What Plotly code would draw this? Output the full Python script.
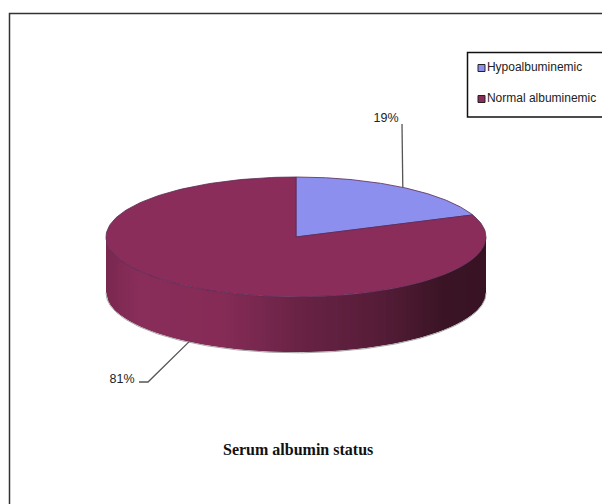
import numpy as np
import plotly.graph_objects as go

categories = ["Hypoalbuminemic", "Normal albuminemic"]
shares = [19, 81]
slice_colors = ["#8c8fee", "#8b2d5b"]
chart_title = "Serum albumin status"

# Pie geometry in page pixels: centre, radii and wall height of the disc
CX, CY, RX, RY, DEPTH = 296, 237, 190, 60, 55

# Shading of the front wall: (position from left end to right end, colour)
wall_stops = [(0.00, (122, 40, 80)), (0.08, (137, 45, 90)), (0.30, (133, 43, 86)),
              (0.50, (106, 35, 69)), (0.72, (85, 28, 55)), (0.88, (58, 20, 37)),
              (1.00, (56, 19, 36))]


def rim(theta):
    """Point on the top rim; theta runs clockwise from twelve o'clock."""
    return CX + RX * np.sin(theta), CY - RY * np.cos(theta)


def wall_colour(t):
    pos = [s[0] for s in wall_stops]
    rgb = [np.interp(t, pos, [s[1][i] for s in wall_stops]) for i in range(3)]
    return "rgb(%d,%d,%d)" % tuple(int(round(c)) for c in rgb)


fractions = np.cumsum([0] + shares) / sum(shares)
angles = 2 * np.pi * fractions

fig = go.Figure()

# Front wall: shaded strips painted left to right, each one running under the next
N_STRIPS = 95
edges = np.linspace(0, 1, N_STRIPS + 1)
for i in range(N_STRIPS):
    t0, t1 = edges[i], edges[min(i + 2, N_STRIPS)]
    s = np.linspace(2 * t0 - 1, 2 * t1 - 1, 8)
    x = CX + RX * s
    lower = CY + RY * np.sqrt(np.clip(1 - s ** 2, 0, 1))
    fig.add_trace(go.Scatter(
        x=np.r_[x, x[::-1]], y=np.r_[lower + DEPTH, lower[::-1]],
        mode="lines", fill="toself", fillcolor=wall_colour(edges[i]),
        line=dict(width=0), hoverinfo="skip", showlegend=False))

# Lower outline of the wall
th = np.linspace(np.pi / 2, 3 * np.pi / 2, 200)
x, y = rim(th)
fig.add_trace(go.Scatter(x=x, y=y + DEPTH + 0.8, mode="lines",
                         line=dict(color="#a5a5a5", width=1),
                         hoverinfo="skip", showlegend=False))

# Top face, one sector per category
for i, (name, colour) in enumerate(zip(categories, slice_colors)):
    th = np.linspace(angles[i], angles[i + 1], 200)
    x, y = rim(th)
    fig.add_trace(go.Scatter(
        x=np.r_[CX, x, CX], y=np.r_[CY, y, CY],
        mode="lines", fill="toself", fillcolor=colour,
        line=dict(color="#5a2a55", width=0.8),
        name=name, hoverinfo="name", showlegend=False))

# Value labels with leader lines from the middle of each slice's rim
mids = (angles[:-1] + angles[1:]) / 2
mx, my = rim(mids)
fig.add_trace(go.Scatter(x=[mx[0], 402], y=[my[0], 124], mode="lines",
                         line=dict(color="#555555", width=1.3),
                         hoverinfo="skip", showlegend=False))
fig.add_trace(go.Scatter(x=[mx[1], 148, 139], y=[my[1] + DEPTH, 382, 382], mode="lines",
                         line=dict(color="#555555", width=1.3),
                         hoverinfo="skip", showlegend=False))
fig.add_trace(go.Scatter(
    x=[386, 122], y=[119, 380], mode="text",
    text=[f"{v}%" for v in shares],
    textfont=dict(family="Liberation Sans", size=12.5, color="#222222"),
    hoverinfo="skip", showlegend=False))

# Key: square swatches with their labels to the right
fig.add_trace(go.Scatter(
    x=[481.5, 481.5], y=[68, 99], mode="markers+text",
    marker=dict(symbol="square", size=7, color=slice_colors,
                line=dict(color="#222222", width=1)),
    text=categories, textposition="middle right",
    textfont=dict(family="Liberation Sans", size=12, color="#222222"),
    hoverinfo="skip", showlegend=False))

fig.add_annotation(x=298, y=449, xref="x", yref="y", text=f"<b>{chart_title}</b>",
                   showarrow=False,
                   font=dict(family="Liberation Serif", size=16, color="#111111"))

# Chart frame and key box
fig.add_shape(type="rect", x0=9.5, y0=13.5, x1=640, y1=560, xref="x", yref="y",
              line=dict(color="#333333", width=1.5), layer="below")
fig.add_shape(type="rect", x0=467.5, y0=52.5, x1=640, y1=117, xref="x", yref="y",
              line=dict(color="#111111", width=1.5), layer="below")

fig.update_layout(
    width=602, height=504, margin=dict(l=0, r=0, t=0, b=0, pad=0),
    paper_bgcolor="white", plot_bgcolor="white", showlegend=False,
    xaxis=dict(range=[0, 602], visible=False, fixedrange=True),
    yaxis=dict(range=[504, 0], visible=False, fixedrange=True),
)

fig.write_html("out.html", config=dict(displayModeBar=False))
